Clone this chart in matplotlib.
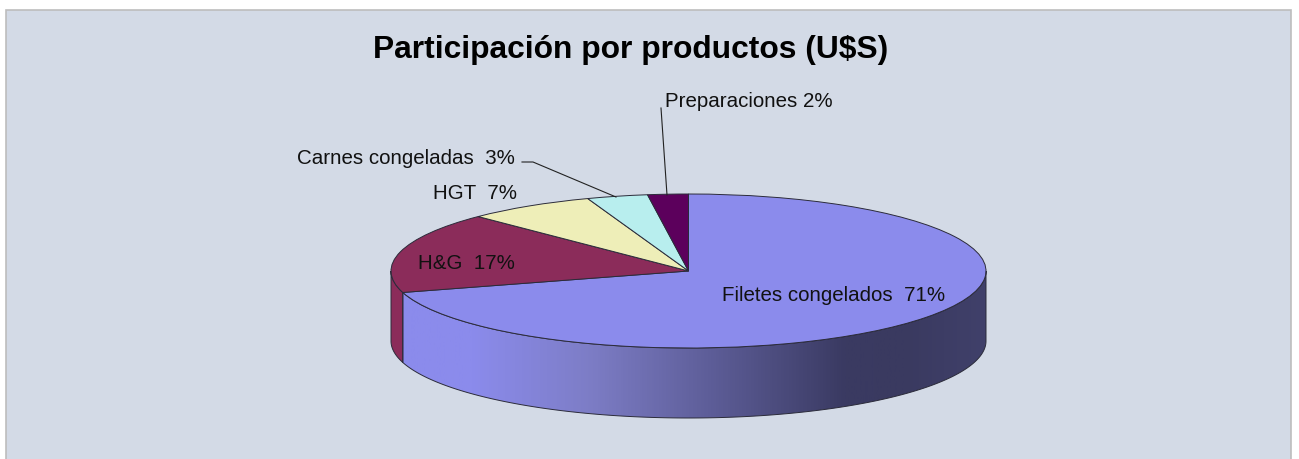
import numpy as np
import matplotlib
matplotlib.use("Agg")
import matplotlib.pyplot as plt
from matplotlib.patches import Rectangle, Polygon
from matplotlib.transforms import Affine2D
from matplotlib.colors import LinearSegmentedColormap

plt.rcParams['font.family'] = ['Liberation Sans', 'DejaVu Sans']

title = "Participación por productos (U$S)"
categories = ["Filetes congelados", "H&G", "HGT", "Carnes congeladas", "Preparaciones"]
shares = [70.5, 17.0, 7.0, 3.3, 2.2]
share_labels = ["71%", "17%", "7%", "3%", "2%"]
colors = ["#8b8bec", "#8b2c5a", "#eeeeb8", "#b8eeee", "#5c005c"]
wall_stops = [(391, "#8b8bec"), (471, "#8b8bec"), (589, "#7d7dc6"), (716, "#5c5c96"),
              (846, "#3a3a62"), (906, "#3a3a60"), (986, "#40406a")]

W, H = 1299, 459
cx, cy, rx, ry, depth = 688.5, 271.0, 297.5, 77.0, 70.0
edge = "#2b2b3a"

fig = plt.figure(figsize=(W / 100, H / 100), dpi=100, facecolor="white")
ax = fig.add_axes([0, 0, 1, 1])

wedges, _ = ax.pie(shares, colors=colors, startangle=90, counterclock=False, radius=rx,
                   wedgeprops=dict(edgecolor=edge, linewidth=0.7))
ax.set_aspect("auto")
ax.set_xlim(0, W)
ax.set_ylim(H, 0)
ax.axis("off")

ax.add_patch(Rectangle((6.5, 9.5), 1285, 460, facecolor="#d3dae6", edgecolor="#bdbdbd",
                       linewidth=1.2, zorder=0))

squash = Affine2D().scale(1, -ry / rx).translate(cx, cy) + ax.transData
for w in wedges:
    w.set_transform(squash)
    w.set_zorder(5)

# side wall, derived from the slice shares
split = 90 - 360 * shares[0] / sum(shares)   # math angle of the Filetes / H&G boundary


def wall(a0, a1):
    a = np.radians(np.linspace(a0, a1, 200))
    x = cx + rx * np.cos(a)
    y = cy - ry * np.sin(a)
    return np.column_stack([np.r_[x, x[::-1]], np.r_[y, y[::-1] + depth]])


main_wall = Polygon(wall(split, 0), closed=True, facecolor="none", edgecolor=edge, linewidth=0.7, zorder=3)
side_wall = Polygon(wall(-180, split), closed=True, facecolor=colors[1], edgecolor=edge, linewidth=0.7, zorder=3)
ax.add_patch(side_wall)
ax.add_patch(main_wall)

x0, x1 = wall_stops[0][0], wall_stops[-1][0]
cmap = LinearSegmentedColormap.from_list("wall", [((x - x0) / (x1 - x0), c) for x, c in wall_stops])
img = ax.imshow(np.linspace(0, 1, 600)[None, :], cmap=cmap, extent=(x0, x1, H, 0), aspect="auto", zorder=2)
img.set_clip_path(main_wall)
ax.set_xlim(0, W)
ax.set_ylim(H, 0)

ax.text(373, 58, title, fontsize=22.9, fontweight="bold", color="black", ha="left", va="baseline", zorder=6)

label_fs = 14.8
text_kw = dict(fontsize=label_fs, ha="left", va="baseline", zorder=6, color="#111111")
ax.text(722, 301, f"{categories[0]}  {share_labels[0]}", **text_kw)
ax.text(418, 269, f"{categories[1]}  {share_labels[1]}", **text_kw)
ax.text(433, 199, f"{categories[2]}  {share_labels[2]}", **text_kw)
ax.text(297, 164, f"{categories[3]}  {share_labels[3]}", **text_kw)
ax.text(665, 107, f"{categories[4]} {share_labels[4]}", **text_kw)

ax.plot([522, 533, 616], [162, 162, 197], color="#222222", lw=0.8, zorder=6)
ax.plot([661, 667], [108, 195], color="#222222", lw=0.8, zorder=6)

fig.savefig("out.png", dpi=100, facecolor="white")
